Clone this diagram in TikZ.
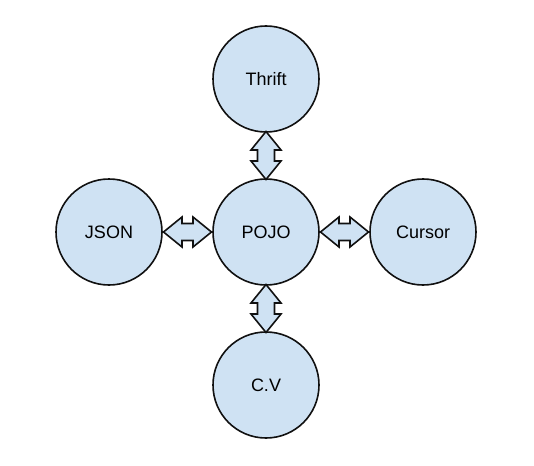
\documentclass[tikz,border=0pt]{standalone}
\usepackage{fontspec}
\setmainfont{Liberation Sans}
\usetikzlibrary{positioning, calc}
\definecolor{cfill}{HTML}{CFE2F3}
\definecolor{cdark}{HTML}{111111}

% two-way block arrow between two nodes, #3 = rotation
\newcommand{\twoway}[3]{%
    \coordinate (mid) at ($(#1)!0.5!(#2)$);
    \draw[link, shift={(mid)}, rotate=#3]
        (-24,0) -- (-5.5,-15) -- (-5.5,-8.5) -- (5.5,-8.5) -- (5.5,-15)
        -- (24,0) -- (5.5,15) -- (5.5,8.5) -- (-5.5,8.5) -- (-5.5,15) -- cycle;
}

\begin{document}
\begin{tikzpicture}[
    x=1pt, y=-1pt,
    font=\fontsize{18}{21}\selectfont,
    format/.style={
        circle, draw=cdark, fill=cfill, line width=1.6pt,
        minimum size=106pt, inner sep=0pt
    },
    link/.style={
        draw=cdark, fill=cfill, line width=1.6pt, line join=miter
    },
]

% --- Canvas -----------------------------------------------------------------
\useasboundingbox (0,0) rectangle (534,465);

% --- Formats ----------------------------------------------------------------
\node[format] (pojo)   at (266, 232) {POJO};
\node[format] (thrift) at (266,  79) {Thrift};
\node[format] (json)   at (109, 232) {JSON};
\node[format] (cursor) at (423, 232) {Cursor};
\node[format] (cv)     at (266, 385) {C.V};

% --- Two-way conversions ----------------------------------------------------
\twoway{thrift}{pojo}{90}
\twoway{json}{pojo}{0}
\twoway{pojo}{cursor}{0}
\twoway{pojo}{cv}{90}

\end{tikzpicture}
\end{document}
